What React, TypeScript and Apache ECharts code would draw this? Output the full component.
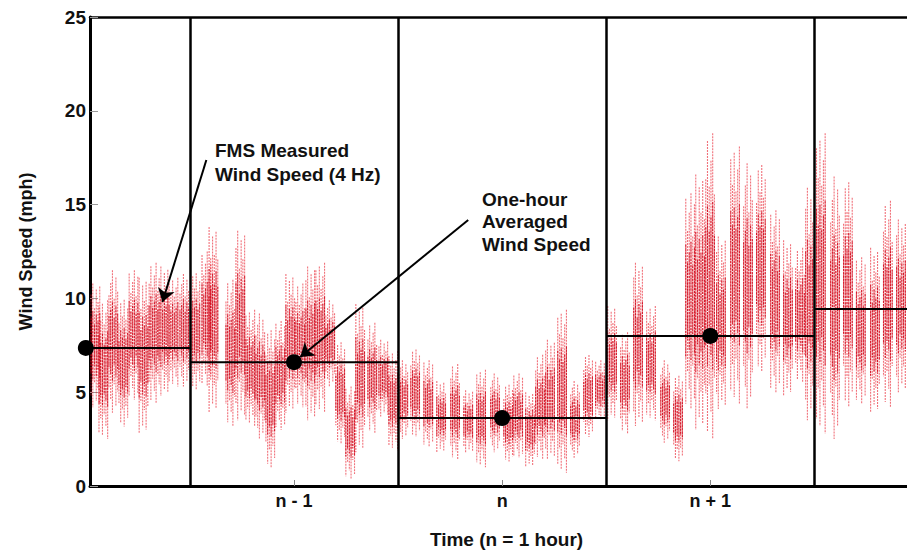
import React, { useEffect, useRef } from "react";
import * as echarts from "echarts";

// time in hours relative to hour n (centre of hour n = 0)
const times = [
  -1.954, -1.916, -1.868, -1.82, -1.771, -1.723, -1.675, -1.627, -1.579, -1.527,
  -1.474, -1.421, -1.387, -1.306, -1.258, -1.21, -1.162, -1.114, -1.066, -1.018,
  -0.97, -0.922, -0.874, -0.826, -0.778, -0.73, -0.682, -0.624, -0.571, -0.523,
  -0.475, -0.418, -0.355, -0.293, -0.226, -0.163, -0.101, -0.034, 0.029, 0.077,
  0.134, 0.182, 0.23, 0.288, 0.35, 0.413, 0.47, 0.528, 0.59, 0.653,
  0.715, 0.783, 0.845, 0.903, 0.951, 0.999, 1.051, 1.119, 1.181, 1.243,
  1.311, 1.373, 1.431, 1.479, 1.531, 1.599, 1.661, 1.723, 1.791, 1.853, 1.916,
];
// lowest / highest measured 4 Hz wind speed around each time (mph)
const lows = [
  4.2, 2.5, 3.9, 3.0, 4.6, 2.8, 4.4, 4.8, 5.3, 5.3,
  5.0, 5.3, 3.9, 3.2, 3.5, 3.2, 2.5, 0.8, 3.0, 3.9,
  4.2, 3.5, 3.9, 5.3, 2.1, 0.4, 1.8, 2.8, 3.7, 1.9,
  2.5, 2.5, 2.1, 1.8, 1.4, 1.8, 1.0, 1.8, 1.2, 1.5,
  1.0, 1.4, 1.4, 0.7, 1.5, 2.5, 3.5, 3.5, 2.8, 3.2,
  3.5, 2.3, 1.2, 4.1, 3.0, 2.5, 4.1, 4.4, 4.1, 5.8,
  5.0, 4.8, 5.5, 3.5, 2.8, 2.5, 3.9, 4.4, 3.9, 4.2, 5.0,
];
const highs = [
  10.8, 9.9, 11.5, 10.1, 11.5, 11.1, 11.9, 11.7, 11.1, 11.3,
  11.5, 12.5, 13.8, 11.0, 13.6, 9.4, 9.2, 8.5, 8.8, 11.3,
  10.8, 11.7, 11.9, 9.9, 7.8, 5.3, 9.7, 8.7, 7.8, 7.2,
  6.7, 7.4, 6.7, 5.6, 6.5, 5.1, 6.2, 6.0, 5.5, 6.0,
  5.0, 7.0, 7.8, 9.4, 5.6, 7.1, 6.7, 9.6, 8.2, 11.9,
  9.6, 6.7, 6.0, 15.6, 16.6, 18.8, 13.3, 18.1, 17.2, 17.4,
  14.7, 13.1, 12.7, 15.9, 18.8, 16.5, 16.5, 12.2, 12.7, 15.2, 14.2,
];

const hourCenters = [-2, -1, 0, 1, 2];
const hourlyAvg = [7.36, 6.6, 3.62, 8.0, 9.43];
const hourBoundaries = [-1.5, -0.5, 0.5, 1.5];
const xTickValues = [-1, 0, 1];
const xTickLabels = ["n - 1", "n", "n + 1"];

// annotation arrows: [start time, start speed, tip time, tip speed]
const arrowMeasured = [-1.421, 17.38, -1.632, 9.81];
const arrowAverage = [-0.163, 14.18, -0.97, 6.88];

const FONT = "'Liberation Sans', Arial, Helvetica, sans-serif";
const STROKE_FRACS = [0.82, 1.0, 0.6, 0.9, 0.7, 0.95, 0.65];

export default function App() {
  const ref = useRef<HTMLDivElement>(null);

  useEffect(() => {
    if (!ref.current) return;
    const chart = echarts.init(ref.current, null, { renderer: "svg" });
    const noiseData = times.map((t, i) => [t, lows[i], highs[i]]);
    const stepData = hourCenters.map((c, i) => [c, hourlyAvg[i]]);

    const option: any = {
      animation: false,
      backgroundColor: "#ffffff",
      grid: { left: 90, right: 0, top: 17, bottom: 69 },
      xAxis: [
        {
          type: "value",
          min: -1.98,
          max: 1.945,
          position: "bottom",
          splitLine: { show: false },
          axisLine: { show: true, onZero: false, lineStyle: { color: "#000", width: 3 } },
          axisTick: {
            show: true,
            inside: true,
            length: 6,
            customValues: xTickValues,
            lineStyle: { color: "#888", width: 1 },
          },
          axisLabel: {
            show: true,
            customValues: xTickValues,
            margin: 6,
            color: "#111",
            fontFamily: FONT,
            fontWeight: "bold",
            fontSize: 18,
            formatter: (v: number) => {
              const idx = xTickValues.indexOf(Math.round(v));
              return idx >= 0 ? xTickLabels[idx] : "";
            },
          },
          name: "Time (n = 1 hour)",
          nameLocation: "middle",
          nameGap: 44,
          nameTextStyle: {
            color: "#111",
            fontFamily: FONT,
            fontWeight: "bold",
            fontSize: 19,
            padding: [0, 0, 0, 16],
          },
        },
        {
          type: "value",
          min: -1.98,
          max: 1.945,
          position: "top",
          splitLine: { show: false },
          axisLine: { show: true, onZero: false, lineStyle: { color: "#000", width: 2.5 } },
          axisTick: { show: false },
          axisLabel: { show: false },
        },
      ],
      yAxis: {
        type: "value",
        min: 0,
        max: 25,
        interval: 5,
        position: "left",
        splitLine: { show: false },
        axisLine: { show: true, onZero: false, lineStyle: { color: "#000", width: 3 } },
        axisTick: { show: true, inside: true, length: 8, lineStyle: { color: "#999", width: 1 } },
        axisLabel: {
          margin: 4,
          color: "#111",
          fontFamily: FONT,
          fontWeight: "bold",
          fontSize: 19,
        },
        name: "Wind Speed (mph)",
        nameLocation: "middle",
        nameGap: 55,
        nameTextStyle: { color: "#111", fontFamily: FONT, fontWeight: "bold", fontSize: 18 },
      },
      series: [
        {
          type: "custom",
          name: "FMS Measured Wind Speed (4 Hz)",
          data: noiseData,
          encode: { x: 0, y: [1, 2] },
          silent: true,
          z: 1,
          renderItem: (params: any, api: any) => {
            const t = api.value(0);
            const lo = api.value(1);
            const hi = api.value(2);
            const mid = (lo + hi) / 2;
            const half = (hi - lo) / 2;
            const w = api.size([0.05, 0])[0];
            const cs = params.coordSys;
            const n = 6;
            const children: any[] = [];
            for (let k = 0; k < n; k++) {
              const off = (k - (n - 1) / 2) * (w / n);
              const f = STROKE_FRACS[(k + params.dataIndex * 3) % STROKE_FRACS.length];
              const top = api.coord([t, mid + half * f]);
              const bot = api.coord([t, mid - half * f]);
              const x = top[0] + off;
              if (x < cs.x + 1 || x > cs.x + cs.width) continue;
              children.push({
                type: "line",
                shape: { x1: x, y1: top[1], x2: x, y2: bot[1] },
                style: { stroke: "rgba(232,20,35,0.6)", lineWidth: 1.1, lineDash: [2, 1] },
              });
              const cTop = api.coord([t, mid + half * f * 0.55]);
              const cBot = api.coord([t, mid - half * f * 0.55]);
              children.push({
                type: "line",
                shape: { x1: x, y1: cTop[1], x2: x, y2: cBot[1] },
                style: { stroke: "rgba(205,0,20,0.8)", lineWidth: 1.1, lineDash: [2.5, 0.8] },
              });
            }
            return { type: "group", children };
          },
        },
        {
          type: "custom",
          name: "One-hour Averaged Wind Speed",
          data: stepData,
          encode: { x: 0, y: 1 },
          silent: true,
          z: 3,
          renderItem: (params: any, api: any) => {
            const c = api.value(0);
            const v = api.value(1);
            const cs = params.coordSys;
            const p1 = api.coord([c - 0.5, v]);
            const p2 = api.coord([c + 0.5, v]);
            const x1 = Math.max(p1[0], cs.x);
            const x2 = Math.min(p2[0], cs.x + cs.width);
            if (x2 <= x1) return null;
            return {
              type: "line",
              shape: { x1, y1: p1[1], x2, y2: p2[1] },
              style: { stroke: "#000", lineWidth: 2 },
            };
          },
          markLine: {
            silent: true,
            symbol: ["none", "arrow"],
            symbolSize: 13,
            label: { show: false },
            lineStyle: { color: "#000", width: 2, type: "solid" },
            data: [
              [
                { coord: [arrowMeasured[0], arrowMeasured[1]] },
                { coord: [arrowMeasured[2], arrowMeasured[3]] },
              ],
              [
                { coord: [arrowAverage[0], arrowAverage[1]] },
                { coord: [arrowAverage[2], arrowAverage[3]] },
              ],
            ],
          },
        },
        {
          type: "scatter",
          name: "Hourly mean",
          data: stepData,
          symbol: "circle",
          symbolSize: 16,
          clip: false,
          itemStyle: { color: "#000", opacity: 1 },
          z: 4,
          silent: true,
          markLine: {
            silent: true,
            symbol: "none",
            label: { show: false },
            lineStyle: { color: "#000", width: 2.5, type: "solid" },
            data: hourBoundaries.map((b) => ({ xAxis: b })),
          },
        },
      ],
      graphic: [
        {
          type: "text",
          left: 215,
          top: 138,
          z: 10,
          style: {
            text: "FMS Measured\nWind Speed (4 Hz)",
            font: `bold 19px ${FONT}`,
            fill: "#111",
            lineHeight: 24,
          },
        },
        {
          type: "text",
          left: 482,
          top: 188,
          z: 10,
          style: {
            text: "One-hour\nAveraged\nWind Speed",
            font: `bold 19px ${FONT}`,
            fill: "#111",
            lineHeight: 22.5,
          },
        },
      ],
    };

    chart.setOption(option);
    return () => chart.dispose();
  }, []);

  return (
    <div
      ref={ref}
      style={{ position: "fixed", left: 0, top: 0, width: 907, height: 555, background: "#fff" }}
    />
  );
}
